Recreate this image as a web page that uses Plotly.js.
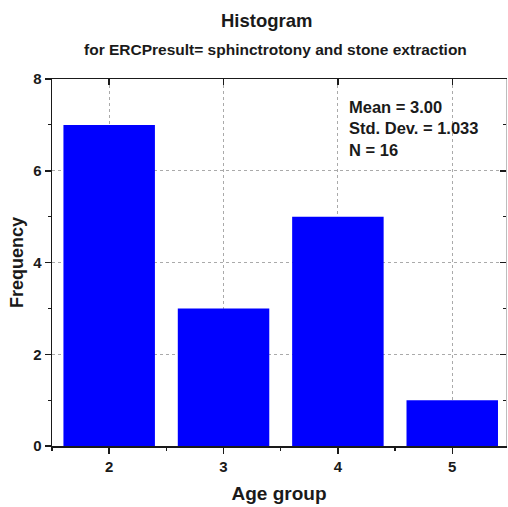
<!DOCTYPE html>
<html>
<head>
<meta charset="utf-8">
<script src="https://cdn.plot.ly/plotly-3.0.1.min.js"></script>
<style>
  html, body { margin: 0; padding: 0; background: #fff; }
  #chart { width: 508px; height: 507px; }
</style>
</head>
<body>
<div id="chart"></div>
<script>
const ageGroups = [2, 3, 4, 5];
const frequencies = [7, 3, 5, 1];
const xTickVals = [2, 3, 4, 5];
const yTickVals = [0, 2, 4, 6, 8];
const titleText = "Histogram";
const subtitleText = "for ERCPresult= sphinctrotony and stone extraction";
const statsLines = ["Mean = 3.00", "Std. Dev. = 1.033", "N = 16"];

const FONT = "Liberation Sans, Arial, sans-serif";
const INK = "#1a1a1a";

const traces = [
  {
    type: "bar",
    x: ageGroups,
    y: frequencies,
    width: 0.8,
    marker: { color: "#0000ff", line: { width: 0 } },
    hoverinfo: "x+y"
  },
  {
    type: "bar",
    x: ageGroups,
    y: frequencies,
    xaxis: "x2",
    yaxis: "y2",
    width: 0.8,
    marker: { color: "rgba(0,0,0,0)" },
    hoverinfo: "skip",
    showlegend: false
  }
];

const xRange = [1.5, 5.47];
const yRange = [0, 8];

const layout = {
  width: 508,
  height: 507,
  margin: { l: 52, r: 2, t: 79, b: 61, pad: 0 },
  paper_bgcolor: "#fff",
  plot_bgcolor: "#fff",
  showlegend: false,
  bargap: 0.2,
  font: { family: FONT, color: INK },
  xaxis: {
    range: xRange,
    tickvals: xTickVals,
    ticktext: xTickVals.map(String),
    ticks: "outside",
    ticklen: 6,
    tickwidth: 1.5,
    tickcolor: INK,
    tickfont: { family: FONT, size: 15, color: INK, weight: "bold" },
    showline: true,
    linecolor: INK,
    linewidth: 1.5,
    mirror: false,
    showgrid: true,
    gridcolor: "#aaaaaa",
    griddash: "dot",
    gridwidth: 1,
    zeroline: false,
    minor: { dtick: 0.5, tick0: 1.5, ticks: "outside", ticklen: 3, tickwidth: 1.2, tickcolor: INK, showgrid: false },
    title: { text: "Age group", font: { family: FONT, size: 19, color: INK, weight: "bold" }, standoff: 13 },
    fixedrange: true
  },
  yaxis: {
    range: yRange,
    tickvals: yTickVals,
    ticktext: yTickVals.map(String),
    ticks: "outside",
    ticklen: 6,
    tickwidth: 1.5,
    tickcolor: INK,
    tickfont: { family: FONT, size: 15, color: INK, weight: "bold" },
    showline: true,
    linecolor: INK,
    linewidth: 1.5,
    mirror: false,
    showgrid: true,
    gridcolor: "#aaaaaa",
    griddash: "dot",
    gridwidth: 1,
    zeroline: false,
    minor: { dtick: 1, ticks: "outside", ticklen: 3, tickwidth: 1.2, tickcolor: INK, showgrid: false },
    title: { text: "Frequency", font: { family: FONT, size: 18, color: INK, weight: "bold" }, standoff: 5 },
    fixedrange: true
  },
  xaxis2: {
    overlaying: "x",
    side: "top",
    range: xRange,
    tickvals: xTickVals,
    ticks: "inside",
    ticklen: 6,
    tickwidth: 1.5,
    tickcolor: INK,
    showticklabels: false,
    showline: true,
    linecolor: INK,
    linewidth: 1.5,
    showgrid: false,
    zeroline: false,
    fixedrange: true
  },
  yaxis2: {
    overlaying: "y",
    side: "right",
    range: yRange,
    tickvals: yTickVals,
    ticks: "inside",
    ticklen: 6,
    tickwidth: 1.5,
    tickcolor: INK,
    showticklabels: false,
    showline: true,
    linecolor: "#bdbdbd",
    linewidth: 1,
    showgrid: false,
    zeroline: false,
    minor: { dtick: 1, ticks: "inside", ticklen: 3, tickwidth: 1.2, tickcolor: INK, showgrid: false },
    fixedrange: true
  },
  annotations: [
    {
      text: titleText,
      xref: "paper", yref: "paper",
      x: 0.474, y: 1,
      yshift: 59,
      xanchor: "center", yanchor: "middle",
      showarrow: false,
      font: { family: FONT, size: 18.5, color: INK, weight: "bold" }
    },
    {
      text: subtitleText,
      xref: "paper", yref: "paper",
      x: 0.493, y: 1,
      yshift: 30,
      xanchor: "center", yanchor: "middle",
      showarrow: false,
      font: { family: FONT, size: 15.5, color: INK, weight: "bold" }
    },
    {
      text: statsLines.join("<br>"),
      xref: "paper", yref: "paper",
      x: 0.65, y: 0.955,
      xanchor: "left", yanchor: "top",
      align: "left",
      showarrow: false,
      font: { family: FONT, size: 16.5, color: INK, weight: "bold" }
    }
  ]
};

Plotly.newPlot("chart", traces, layout, { displayModeBar: false, staticPlot: true });
</script>
</body>
</html>
